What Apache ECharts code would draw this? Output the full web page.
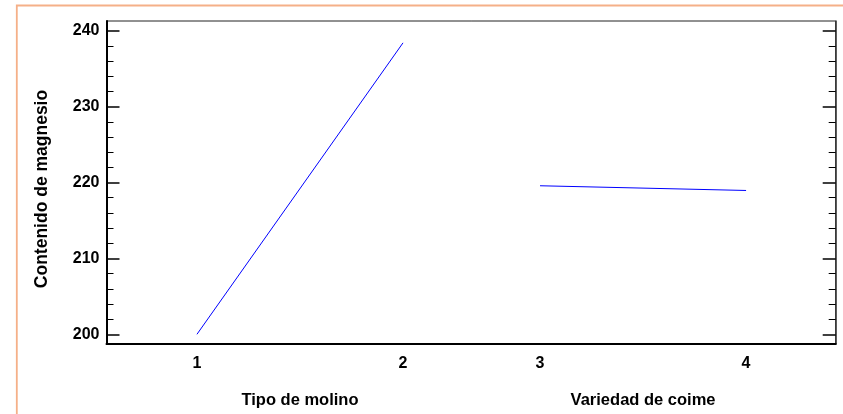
<!DOCTYPE html>
<html>
<head>
<meta charset="utf-8">
<script src="https://cdn.jsdelivr.net/npm/echarts@6/dist/echarts.min.js"></script>
<style>html,body{margin:0;padding:0;background:#fff;}#c{width:843px;height:414px;}</style>
</head>
<body>
<div id="c"></div>
<script>
// Level positions on the shared x axis and their labels
var levelPos = [1, 2, 2.665, 3.665];
var levelLabels = ['1', '2', '3', '4'];
// Factor names
var factorNames = ['Tipo de molino', 'Variedad de coime'];
// Means at each level
var molinoX = [1, 2];
var molinoY = [200.0, 238.4];
var coimeX = [2.665, 3.665];
var coimeY = [219.57, 218.95];
// Y ticks
var yMajor = [200, 210, 220, 230, 240];
var yMinor = [202, 204, 206, 208, 212, 214, 216, 218, 222, 224, 226, 228, 232, 234, 236, 238];
var yTitle = 'Contenido de magnesio';

var FONT = 'Liberation Sans';
var chart = echarts.init(document.getElementById('c'), null, {renderer: 'canvas'});

function pairs(xs, ys) { return xs.map(function (x, i) { return [x, ys[i]]; }); }
function yAx(pos, vals, len, width, labels, line) {
  return {
    type: 'value', position: pos, min: 198.72, max: 241.28,
    axisLine: {show: line, onZero: false, lineStyle: {color: pos === 'left' ? '#000' : '#333', width: pos === 'left' ? 2 : 1.5}},
    axisTick: {show: true, inside: true, length: len, customValues: vals, lineStyle: {color: '#000', width: width}},
    axisLabel: {show: labels, customValues: vals, margin: 7, color: '#000', fontFamily: FONT, fontWeight: 'bold', fontSize: 16},
    splitLine: {show: false}, minorTick: {show: false}
  };
}

var option = {
  animation: false,
  backgroundColor: '#fff',
  grid: {left: 106.5, right: 7.3, top: 21, bottom: 70, show: true, borderColor: '#222', borderWidth: 1, backgroundColor: 'transparent'},
  xAxis: {
    type: 'value', min: 0.561, max: 4.1,
    axisLine: {show: true, onZero: false, lineStyle: {color: '#000', width: 2}},
    axisTick: {show: false},
    splitLine: {show: false},
    axisLabel: {
      customValues: levelPos, margin: 12, color: '#000', fontFamily: FONT, fontWeight: 'bold', fontSize: 16,
      formatter: function (v) {
        for (var i = 0; i < levelPos.length; i++) if (Math.abs(levelPos[i] - v) < 1e-6) return levelLabels[i];
        return '';
      }
    }
  },
  yAxis: [
    yAx('left', yMajor, 13, 1.5, true, true),
    yAx('left', yMinor, 7, 1, false, false),
    yAx('right', yMajor, 13, 1.5, false, true),
    yAx('right', yMinor, 7, 1, false, false)
  ],
  series: [
    {type: 'line', data: pairs(molinoX, molinoY), yAxisIndex: 0, showSymbol: false, symbol: 'none', lineStyle: {color: '#0000ff', width: 1}},
    {type: 'line', data: pairs(coimeX, coimeY), yAxisIndex: 0, showSymbol: false, symbol: 'none', lineStyle: {color: '#0000ff', width: 1}}
  ]
};
chart.setOption(option);

var c1 = chart.convertToPixel({xAxisIndex: 0}, (levelPos[0] + levelPos[1]) / 2);
var c2 = chart.convertToPixel({xAxisIndex: 0}, (levelPos[2] + levelPos[3]) / 2);
chart.setOption({
  graphic: [
    {type: 'rect', shape: {x: 16.8, y: 5.5, width: 1000, height: 1000}, style: {fill: 'none', stroke: '#F5B088', lineWidth: 1.8}, silent: true},
    {type: 'text', x: c1, y: 400, style: {text: factorNames[0], fill: '#000', font: 'bold 16.5px "Liberation Sans"', align: 'center', verticalAlign: 'middle'}},
    {type: 'text', x: c2, y: 400, style: {text: factorNames[1], fill: '#000', font: 'bold 16.5px "Liberation Sans"', align: 'center', verticalAlign: 'middle'}},
    {type: 'text', x: 42, y: 189, rotation: Math.PI / 2, style: {text: yTitle, fill: '#000', font: 'bold 17.5px "Liberation Sans"', align: 'center', verticalAlign: 'middle'}}
  ]
});
</script>
</body>
</html>
